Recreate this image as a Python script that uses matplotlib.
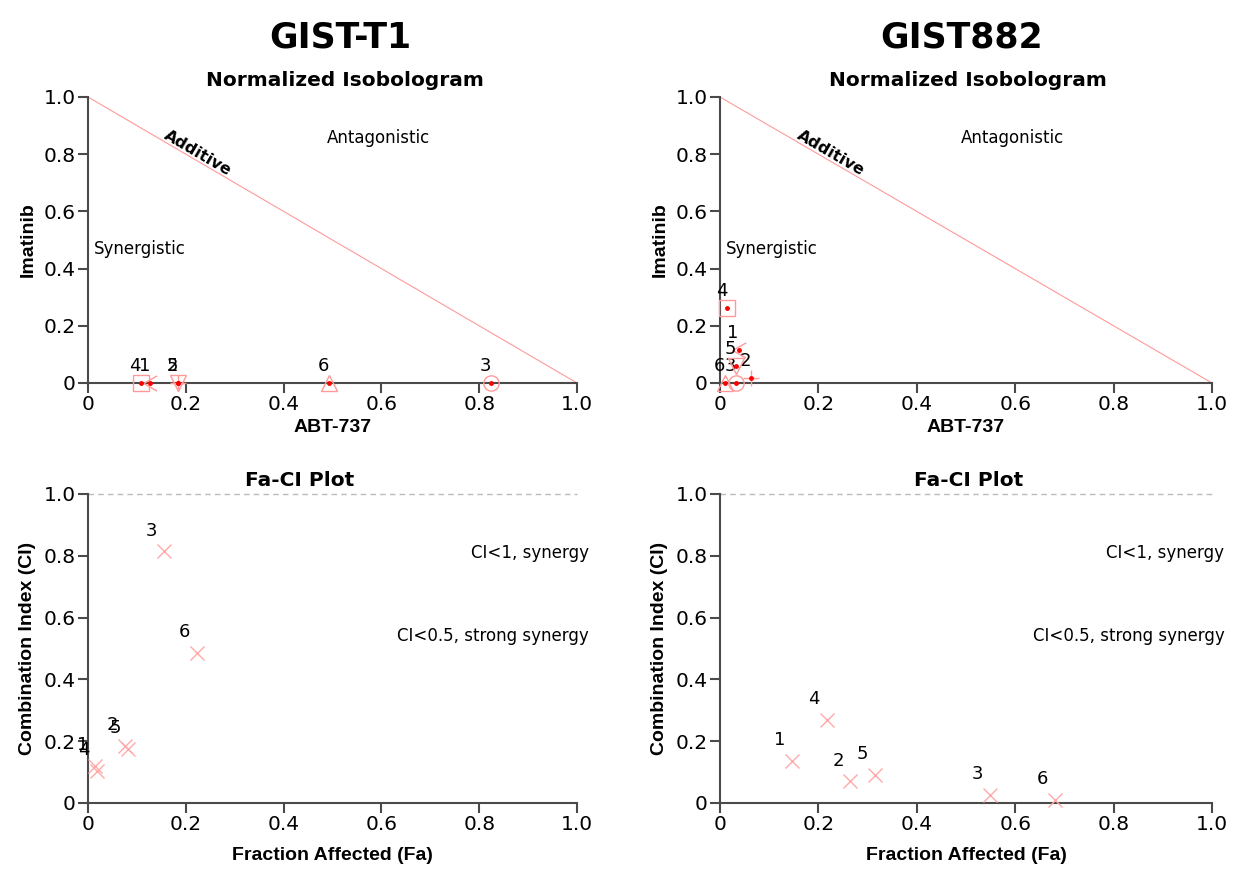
import numpy as np
import matplotlib
matplotlib.use("Agg")
import matplotlib.pyplot as plt
from matplotlib.path import Path

plt.rcParams['font.family'] = ['DejaVu Sans']

# combination points (same order in every list)
combos = ['1', '2', '3', '4', '5', '6']

# GIST-T1
t1_abt = [0.127, 0.184, 0.825, 0.108, 0.184, 0.493]
t1_ima = [0.0, 0.0, 0.0, 0.0, 0.0, 0.0]
t1_fa = [0.015, 0.076, 0.156, 0.018, 0.082, 0.223]
t1_ci = [0.120, 0.185, 0.814, 0.103, 0.176, 0.485]

# GIST882
g882_abt = [0.038, 0.062, 0.032, 0.014, 0.032, 0.010]
g882_ima = [0.115, 0.018, 0.0, 0.263, 0.059, 0.0]
g882_fa = [0.147, 0.265, 0.548, 0.217, 0.315, 0.680]
g882_ci = [0.137, 0.070, 0.027, 0.270, 0.092, 0.009]

ticks = [0, 0.2, 0.4, 0.6, 0.8, 1.0]
tick_labels = ['0', '0.2', '0.4', '0.6', '0.8', '1.0']

PINK = '#ff9a9a'
AXC = '#4a4a4a'
LAB = dict(fontsize=14, fontweight='bold', family='Liberation Sans')

lt = Path([(0.7, 0.8), (-0.7, 0.0), (0.7, -0.8)], [Path.MOVETO, Path.LINETO, Path.LINETO])
markers = {'1': lt, '2': '+', '3': 'o', '4': 's', '5': 'v', '6': '^'}

W, H = 1259, 874
fig = plt.figure(figsize=(W / 100, H / 100), dpi=100)


def make_ax(x0, x1, ytop, ybot):
    ax = fig.add_axes([x0 / W, 1 - ybot / H, (x1 - x0) / W, (ybot - ytop) / H])
    ax.set_xlim(0, 1)
    ax.set_ylim(0, 1)
    for s in ['top', 'right']:
        ax.spines[s].set_visible(False)
    for s in ['left', 'bottom']:
        ax.spines[s].set_color(AXC)
        ax.spines[s].set_linewidth(1.5)
    ax.set_xticks(ticks)
    ax.set_xticklabels(tick_labels)
    ax.set_yticks(ticks)
    ax.set_yticklabels(tick_labels)
    ax.tick_params(direction='out', length=7, width=1.5, color=AXC, labelsize=14.5, pad=2)
    return ax


def isobologram(ax, xs, ys):
    ax.plot([0, 1], [1, 0], color=PINK, lw=0.8)
    ax.text(0.225, 0.805, 'Additive', rotation=-45, transform_rotates_text=True,
            ha='center', va='center', fontsize=11.5, fontweight='bold', rotation_mode='anchor')
    ax.text(0.595, 0.855, 'Antagonistic', ha='center', va='center', fontsize=12)
    ax.text(0.012, 0.47, 'Synergistic', ha='left', va='center', fontsize=12)
    for c, x, y in zip(combos, xs, ys):
        ax.plot([x], [y], linestyle='none', marker=markers[c], ms=11, mfc='none',
                mec=PINK, mew=1, clip_on=False, zorder=3)
        ax.plot([x], [y], 'o', ms=2.5, color='red', clip_on=False, zorder=4)
        ax.annotate(c, (x, y), xytext=(-4, 12), textcoords='offset points',
                    ha='center', va='center', fontsize=13)
    ax.set_xlabel('ABT-737', labelpad=3, **LAB)
    ax.set_ylabel('Imatinib', labelpad=5, **LAB)


def faci(ax, fa, ci):
    ax.axhline(1.0, color='#bbbbbb', lw=1, ls=(0, (4, 3)), clip_on=False)
    ax.text(1.025, 0.81, 'CI<1, synergy', ha='right', va='center', fontsize=12)
    ax.text(1.025, 0.54, 'CI<0.5, strong synergy', ha='right', va='center', fontsize=12)
    ax.plot(fa, ci, linestyle='none', marker='x', ms=10, mec='#ffaaaa', mew=1,
            clip_on=False, zorder=3)
    for c, x, y in zip(combos, fa, ci):
        ax.annotate(c, (x, y), xytext=(-9, 15), textcoords='offset points',
                    ha='center', va='center', fontsize=13)
    ax.set_xlabel('Fraction Affected (Fa)', labelpad=9, **LAB)
    ax.set_ylabel('Combination Index (CI)', labelpad=5, **LAB)


ax1 = make_ax(88, 577, 97, 383)
isobologram(ax1, t1_abt, t1_ima)
ax2 = make_ax(720, 1212, 97, 383)
isobologram(ax2, g882_abt, g882_ima)
ax3 = make_ax(88, 577, 494, 803)
faci(ax3, t1_fa, t1_ci)
ax4 = make_ax(720, 1212, 494, 803)
faci(ax4, g882_fa, g882_ci)

fig.text(340 / W, 1 - 38 / H, 'GIST-T1', ha='center', va='center', fontsize=25, fontweight='bold')
fig.text(962 / W, 1 - 38 / H, 'GIST882', ha='center', va='center', fontsize=25, fontweight='bold')
for xc in [345, 968]:
    fig.text(xc / W, 1 - 81 / H, 'Normalized Isobologram', ha='center', va='center',
             fontsize=14.5, fontweight='bold')
for xc in [300, 969]:
    fig.text(xc / W, 1 - 481 / H, 'Fa-CI Plot', ha='center', va='center',
             fontsize=14.5, fontweight='bold')

fig.savefig('out.png', dpi=100)
